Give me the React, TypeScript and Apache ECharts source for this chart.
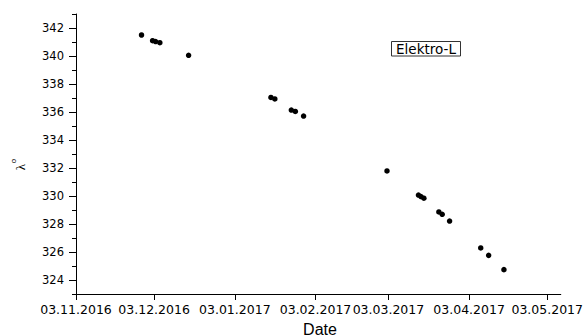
import React, { useEffect, useRef } from "react";
import * as echarts from "echarts";

const dates = [
  "2016-11-28 04:00", "2016-12-02 10:00", "2016-12-03 14:00", "2016-12-05 05:00",
  "2016-12-16 06:00", "2017-01-16 21:00", "2017-01-18 09:00", "2017-01-24 17:00",
  "2017-01-26 06:00", "2017-01-29 10:00", "2017-03-02 11:00", "2017-03-14 13:00",
  "2017-03-15 12:00", "2017-03-16 15:00", "2017-03-22 09:00", "2017-03-23 16:00",
  "2017-03-26 12:00", "2017-04-07 11:00", "2017-04-10 12:00", "2017-04-16 09:00",
];
const values = [
  341.5, 341.09, 341.03, 340.95, 340.05, 337.04, 336.93, 336.14, 336.04, 335.71,
  331.79, 330.07, 329.96, 329.84, 328.86, 328.69, 328.21, 326.29, 325.76, 324.74,
];
const xTickDates = [
  "2016-11-03", "2016-12-03", "2017-01-03", "2017-02-03",
  "2017-03-03", "2017-04-03", "2017-05-03",
];
const xRange = ["2016-11-03", "2017-05-08 05:00"];
const yLabels = [324, 326, 328, 330, 332, 334, 336, 338, 340, 342];
const yRange = [323, 343];
const seriesName = "Elektro-L";

const ts = (s: string) => {
  const [d, t] = s.split(" ");
  const [Y, M, D] = d.split("-").map(Number);
  const [h, m] = (t || "00:00").split(":").map(Number);
  return Date.UTC(Y, M - 1, D, h, m);
};
const pad = (n: number) => (n < 10 ? "0" + n : "" + n);
const fmt = (v: number) => {
  const d = new Date(v);
  return `${pad(d.getUTCDate())}.${pad(d.getUTCMonth() + 1)}.${d.getUTCFullYear()}`;
};

export default function App() {
  const ref = useRef<HTMLDivElement>(null);
  useEffect(() => {
    if (!ref.current) return;
    const chart = echarts.init(ref.current, undefined, { renderer: "svg" });
    const xTicks = xTickDates.map(ts);
    chart.setOption({
      animation: false,
      backgroundColor: "#fff",
      grid: { left: 76, right: 24, top: 14, bottom: 42 },
      xAxis: {
        type: "value",
        min: ts(xRange[0]),
        max: ts(xRange[1]),
        splitLine: { show: false },
        axisLine: { lineStyle: { color: "#000", width: 1 } },
        axisTick: { customValues: xTicks, length: 6, lineStyle: { color: "#000" } },
        axisLabel: {
          customValues: xTicks,
          formatter: (v: number) => fmt(v),
          fontFamily: "DejaVu Sans",
          fontSize: 12.5,
          color: "#000",
          margin: 9,
        },
      },
      yAxis: [
        {
          type: "value",
          min: yRange[0],
          max: yRange[1],
          splitLine: { show: false },
          axisLine: { show: true, lineStyle: { color: "#000", width: 1 } },
          axisTick: { customValues: yLabels, length: 7, lineStyle: { color: "#000" } },
          axisLabel: {
            customValues: yLabels,
            fontFamily: "DejaVu Sans",
            fontSize: 11.5,
            color: "#000",
            margin: 12,
          },
        },
        {
          type: "value",
          min: yRange[0],
          max: yRange[1],
          interval: 1,
          position: "left",
          splitLine: { show: false },
          axisLine: { show: false },
          axisTick: { show: true, length: 4, lineStyle: { color: "#000" } },
          axisLabel: { show: false },
        },
      ],
      series: [
        {
          name: seriesName,
          type: "scatter",
          yAxisIndex: 0,
          symbol: "circle",
          symbolSize: 5.5,
          itemStyle: { color: "#000", opacity: 1 },
          data: dates.map((d, i) => [ts(d), values[i]]),
        },
      ],
      graphic: [
        {
          type: "text",
          x: 320,
          y: 329,
          style: {
            text: "Date",
            fontFamily: "Liberation Sans",
            fontSize: 16,
            fill: "#000",
            align: "center",
            verticalAlign: "middle",
          },
        },
        {
          type: "text",
          x: 20,
          y: 167,
          rotation: Math.PI / 2,
          style: {
            text: "λ",
            fontFamily: "Liberation Serif",
            fontSize: 13,
            fill: "#000",
            align: "center",
            verticalAlign: "middle",
          },
        },
        {
          type: "text",
          x: 13.5,
          y: 161,
          rotation: Math.PI / 2,
          style: {
            text: "o",
            fontFamily: "Liberation Sans",
            fontSize: 8,
            fill: "#000",
            align: "center",
            verticalAlign: "middle",
          },
        },
        {
          type: "rect",
          shape: { x: 391.5, y: 41.5, width: 69, height: 14.5 },
          style: { fill: "#fff", stroke: "#333", lineWidth: 1 },
        },
        {
          type: "text",
          x: 426,
          y: 49,
          style: {
            text: seriesName,
            fontFamily: "DejaVu Sans",
            fontSize: 13.5,
            fill: "#000",
            align: "center",
            verticalAlign: "middle",
          },
        },
      ],
    });
    return () => chart.dispose();
  }, []);
  return (
    <div
      ref={ref}
      style={{ position: "fixed", left: 0, top: 0, width: 586, height: 336 }}
    />
  );
}
